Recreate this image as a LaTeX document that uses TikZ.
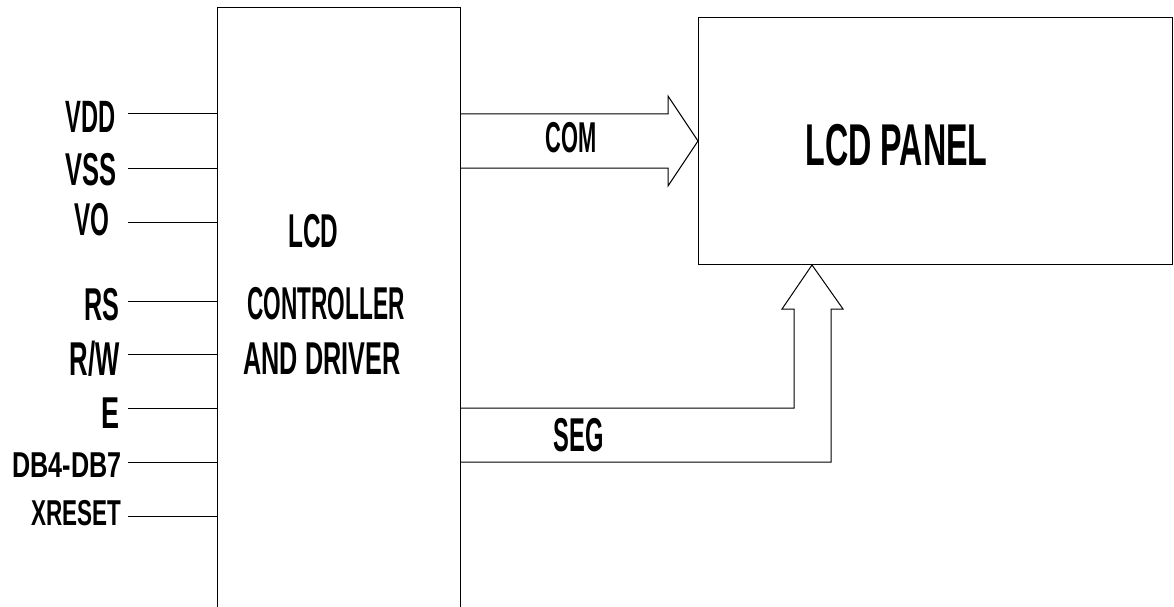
\documentclass[tikz,border=0pt]{standalone}
\usepackage{fontspec}
\setmainfont{Liberation Sans}
\usepackage{graphicx}
% scale text so that its cap height is #2 pt and its width is #1 pt
\newcommand{\fitbox}[3]{\resizebox{#1pt}{#2pt}{\rule{0pt}{6.95pt}\smash{\fontsize{10pt}{10pt}\selectfont\bfseries #3}}}
\begin{document}
\begin{tikzpicture}[x=1pt,y=-1pt,line width=1pt,
  lbl/.style={inner sep=0pt,anchor=base east},
  txt/.style={inner sep=0pt,anchor=base west},
  box/.style={draw=black,line width=1pt,inner sep=0pt,anchor=north west},
  wire/.style={draw=black,line width=1pt}]
\useasboundingbox (0,0) rectangle (1174,607);
\clip (0,0) rectangle (1174,607);
% blocks
\node[box,minimum width=243pt,minimum height=640pt] (ctrl) at (217,7) {};
\node[box,minimum width=474pt,minimum height=247pt] (panel) at (698,17) {};
% texts in blocks
\node[txt] (tLCD) at (288,247) {\fitbox{50}{33}{LCD}};
\node[txt] (tCTRL) at (247,319) {\fitbox{157}{32}{CONTROLLER}};
\node[txt] (tDRV) at (243,374) {\fitbox{157}{32}{AND DRIVER}};
\node[txt] (tPANEL) at (805,165) {\fitbox{182}{41}{LCD PANEL}};
% pin labels
\node[lbl] (lVDD) at (116,133) {\fitbox{50}{31.5}{VDD}};
\node[lbl] (lVSS) at (117,185) {\fitbox{51}{32}{VSS}};
\node[lbl] (lVO) at (110,235) {\fitbox{35}{32}{VO}};
\node[lbl] (lRS) at (120,320) {\fitbox{35}{32}{RS}};
\node[lbl] (lRW) at (120,375) {\fitbox{50}{33}{R/W}};
\node[lbl] (lE) at (120,428) {\fitbox{18}{31}{E}};
\node[lbl] (lDB) at (122,477) {\fitbox{109}{25}{DB4-DB7}};
\node[lbl] (lXR) at (122,525) {\fitbox{90}{25}{XRESET}};
% pin wires
\foreach \n/\y in {VDD/114,VSS/168,VO/222,RS/301,RW/354,E/408,DB/462,XR/516}{
  \coordinate (s\n) at (128,\y);
  \draw[wire] (s\n) -- (s\n -| ctrl.west);
}
% COM arrow
\coordinate (c1) at (460,114);
\coordinate (c2) at (460,168);
\coordinate (cTip) at (698,141);
\draw[wire] (c1 -| ctrl.east) -- (668,114) -- (668,96) -- (cTip -| panel.west)
  -- (668,186) -- (668,168) -- (c2 -| ctrl.east);
\node[txt] (tCOM) at (545,153) {\fitbox{51}{30}{COM}};
% SEG arrow
\coordinate (g1) at (460,408);
\coordinate (g2) at (460,462);
\coordinate (gTip) at (812,264);
\draw[wire] (g1 -| ctrl.east) -- (794,408) -- (794,309) -- (782,309)
  -- (gTip |- panel.south) -- (843,309) -- (831,309) -- (831,462) -- (g2 -| ctrl.east);
\node[txt] (tSEG) at (553,451) {\fitbox{50}{33}{SEG}};
\end{tikzpicture}
\end{document}
